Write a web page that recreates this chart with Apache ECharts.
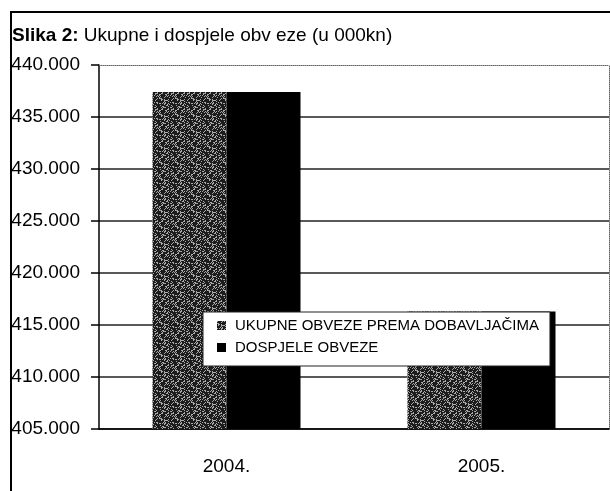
<!DOCTYPE html>
<html>
<head>
<meta charset="utf-8">
<script src="https://cdn.jsdelivr.net/npm/echarts@6/dist/echarts.min.js"></script>
<style>
  html, body { margin: 0; padding: 0; background: #fff; }
  #main { width: 610px; height: 491px; }
</style>
</head>
<body>
<div id="main"></div>
<script>
var years = ['2004.', '2005.'];
var ukupne = [437400, 416300];
var dospjele = [437400, 416300];
var yTicks = [405000, 440000, 5000]; // min, max, step

var font = "'Liberation Sans Narrow', 'Arial Narrow', 'Liberation Sans', sans-serif";

// speckled dark grey fill like the printed pattern
function speckle() {
    var n = 16;
    var c = document.createElement('canvas');
    c.width = n;
    c.height = n;
    var ctx = c.getContext('2d');
    ctx.fillStyle = '#1c1c1c';
    ctx.fillRect(0, 0, n, n);
    ctx.fillStyle = '#a8a8a8';
    for (var x = 0; x < n; x++) {
        for (var y = 0; y < n; y++) {
            if (((x * 73 + y * 151) ^ (x * y * 31)) % 7 < 2) ctx.fillRect(x, y, 1, 1);
        }
    }
    return c;
}

var myChart = echarts.init(document.getElementById('main'));
var option = {
    animation: false,
    backgroundColor: '#fff',
    title: {
        text: '{b|Slika 2:} Ukupne i dospjele obv eze (u 000kn)',
        left: 12,
        top: 26,
        padding: 0,
        textStyle: {
            fontFamily: 'Liberation Sans',
            fontSize: 19,
            fontWeight: 'normal',
            color: '#000',
            rich: {
                b: { fontFamily: 'Liberation Sans', fontSize: 19, fontWeight: 'bold', color: '#000' }
            }
        }
    },
    graphic: [{
        type: 'rect',
        shape: { x: 11, y: 12, width: 700, height: 600 },
        style: { fill: 'none', stroke: '#000', lineWidth: 2 },
        silent: true
    }],
    legend: {
        orient: 'vertical',
        left: 203,
        top: 312,
        padding: [5, 11, 10, 14],
        itemGap: 5,
        itemWidth: 9,
        itemHeight: 9,
        icon: 'rect',
        backgroundColor: '#fff',
        borderColor: '#222',
        borderWidth: 1,
        textStyle: {
            fontFamily: font,
            fontSize: 15,
            lineHeight: 17,
            color: '#000',
            padding: [0, 0, 0, 4]
        }
    },
    grid: { left: 99, right: 1, top: 65, bottom: 62 },
    xAxis: [{
        type: 'category',
        data: years,
        axisLine: { lineStyle: { color: '#000', width: 1.5 } },
        axisTick: { length: 8, lineStyle: { color: '#000', width: 1.5 } },
        axisLabel: { margin: 28, fontFamily: font, fontSize: 19, color: '#000' }
    }, {
        type: 'category',
        data: years,
        position: 'top',
        axisLine: { lineStyle: { color: '#666', width: 1, type: 'dotted' } },
        axisTick: { show: false },
        axisLabel: { show: false }
    }],
    yAxis: [{
        type: 'value',
        min: yTicks[0],
        max: yTicks[1],
        interval: yTicks[2],
        axisLine: { show: true, lineStyle: { color: '#000', width: 1.5 } },
        axisTick: { show: true, length: 8, lineStyle: { color: '#000', width: 1.5 } },
        axisLabel: {
            margin: 19,
            fontFamily: font,
            fontSize: 19,
            color: '#000',
            formatter: function (v) { return (v / 1000).toFixed(3); }
        },
        splitLine: { showMaxLine: false, lineStyle: { color: '#222', width: 1.5 } }
    }, {
        type: 'value',
        min: yTicks[0],
        max: yTicks[1],
        interval: yTicks[2],
        position: 'right',
        axisLine: { show: true, lineStyle: { color: '#666', width: 1, type: 'dotted' } },
        axisTick: { show: false },
        axisLabel: { show: false },
        splitLine: { show: false }
    }],
    series: [{
        name: 'UKUPNE OBVEZE PREMA DOBAVLJAČIMA',
        type: 'bar',
        barWidth: 74,
        barGap: 0,
        data: ukupne,
        itemStyle: { color: { image: speckle(), repeat: 'repeat' } }
    }, {
        name: 'DOSPJELE OBVEZE',
        type: 'bar',
        barWidth: 74,
        barGap: 0,
        data: dospjele,
        itemStyle: { color: '#000' }
    }]
};
myChart.setOption(option);
</script>
</body>
</html>
